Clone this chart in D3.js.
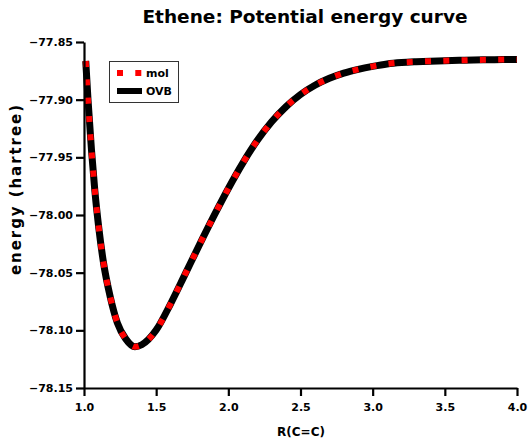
<!DOCTYPE html>
<html>
<head>
<meta charset="utf-8">
<script src="https://cdn.jsdelivr.net/npm/d3@7"></script>
<style>
  html, body { margin: 0; padding: 0; background: #fff; }
  svg { display: block; font-family: "DejaVu Sans", sans-serif; font-weight: 700; }
</style>
</head>
<body>
<svg id="chart" width="528" height="439"></svg>
<script>
// ---- data ----
const bondLength = [1.012, 1.028, 1.052, 1.075, 1.103, 1.135, 1.18, 1.231, 1.289, 1.353, 1.40, 1.50, 1.60, 1.70, 1.80, 1.90, 2.00, 2.10, 2.20, 2.30, 2.40, 2.50, 2.60, 2.70, 2.80, 2.90, 3.00, 3.10, 3.20, 3.30, 3.40, 3.50, 3.60, 3.70, 3.80, 3.90, 4.00];
const molEnergy = [-77.8665, -77.9004, -77.9439, -77.9787, -78.0117, -78.0413, -78.0700, -78.0935, -78.1074, -78.1142, -78.1125, -78.0998, -78.0770, -78.0515, -78.0258, -78.0008, -77.9770, -77.9550, -77.9355, -77.9192, -77.9060, -77.8955, -77.8875, -77.8815, -77.8770, -77.8737, -77.8711, -77.8690, -77.8678, -77.8671, -77.8666, -77.8662, -77.8659, -77.8656, -77.8654, -77.8652, -77.8651];
const ovbEnergy = [-77.8665, -77.9004, -77.9439, -77.9787, -78.0117, -78.0413, -78.0700, -78.0935, -78.1074, -78.1142, -78.1125, -78.0998, -78.0770, -78.0515, -78.0258, -78.0008, -77.9770, -77.9550, -77.9355, -77.9192, -77.9060, -77.8955, -77.8875, -77.8815, -77.8770, -77.8737, -77.8711, -77.8690, -77.8678, -77.8671, -77.8666, -77.8662, -77.8659, -77.8656, -77.8654, -77.8652, -77.8651];
const xTicks = [1.0, 1.5, 2.0, 2.5, 3.0, 3.5, 4.0];
const yTicks = [-77.85, -77.90, -77.95, -78.00, -78.05, -78.10, -78.15];
const seriesNames = ["mol", "OVB"];
const titleText = "Ethene: Potential energy curve";
const xLabel = "R(C=C)";
const yLabel = "energy (hartree)";

// ---- layout ----
const svg = d3.select("#chart");
const plotLeft = 84, plotRight = 517, plotTop = 42, plotBottom = 388;
const FONT = '"DejaVu Sans", sans-serif';

const x = d3.scaleLinear().domain([1.0, 4.0]).range([plotLeft, plotRight]);
const y = d3.scaleLinear().domain([-78.15, -77.85]).range([plotBottom, plotTop]);

const ovbData = bondLength.map((r, i) => [r, ovbEnergy[i]]);
const molData = bondLength.map((r, i) => [r, molEnergy[i]]);

const line = d3.line().x(d => x(d[0])).y(d => y(d[1])).curve(d3.curveMonotoneX);

svg.append("path").datum(ovbData)
  .attr("d", line).attr("fill", "none")
  .attr("stroke", "#000").attr("stroke-width", 7);
svg.append("path").datum(molData)
  .attr("d", line).attr("fill", "none")
  .attr("stroke", "#ff0000").attr("stroke-width", 6)
  .attr("stroke-dasharray", "6,12.3");

// axes
const xAxis = d3.axisBottom(x).tickValues(xTicks).tickFormat(d3.format(".1f"))
  .tickSizeInner(8).tickSizeOuter(0).tickPadding(7);
const yAxis = d3.axisLeft(y).tickValues(yTicks).tickFormat(d3.format(".2f"))
  .tickSizeInner(8).tickSizeOuter(0).tickPadding(3);

const gx = svg.append("g").attr("transform", `translate(0,${plotBottom})`).call(xAxis);
const gy = svg.append("g").attr("transform", `translate(${plotLeft},0)`).call(yAxis);
[gx, gy].forEach(g => {
  g.select(".domain").attr("stroke", "#000").attr("stroke-width", 2.2);
  g.selectAll(".tick line").attr("stroke", "#000").attr("stroke-width", 2.2);
  g.selectAll(".tick text").attr("fill", "#000")
    .style("font-family", FONT).style("font-weight", 700).style("font-size", "11px");
});

// title and labels
svg.append("text").attr("x", 305).attr("y", 23).attr("text-anchor", "middle")
  .style("font-size", "18.5px").text(titleText);
svg.append("text").attr("x", 301).attr("y", 436).attr("text-anchor", "middle")
  .style("font-size", "12px").text(xLabel);
svg.append("text").attr("transform", "translate(21,190) rotate(-90)").attr("text-anchor", "middle")
  .style("font-size", "15px").attr("textLength", 170).attr("lengthAdjust", "spacing").text(yLabel);

// legend
const lg = svg.append("g");
lg.append("rect").attr("x", 109.5).attr("y", 61.5).attr("width", 69).attr("height", 41)
  .attr("fill", "#fff").attr("stroke", "#333").attr("stroke-width", 1);
lg.append("line").attr("x1", 117).attr("x2", 141.5).attr("y1", 73).attr("y2", 73)
  .attr("stroke", "#ff0000").attr("stroke-width", 6).attr("stroke-dasharray", "6,12.3");
lg.append("line").attr("x1", 117).attr("x2", 142).attr("y1", 91).attr("y2", 91)
  .attr("stroke", "#000").attr("stroke-width", 6);
lg.append("text").attr("x", 146).attr("y", 77).style("font-size", "11px").text(seriesNames[0]);
lg.append("text").attr("x", 146).attr("y", 95).style("font-size", "11px").text(seriesNames[1]);
</script>
</body>
</html>
